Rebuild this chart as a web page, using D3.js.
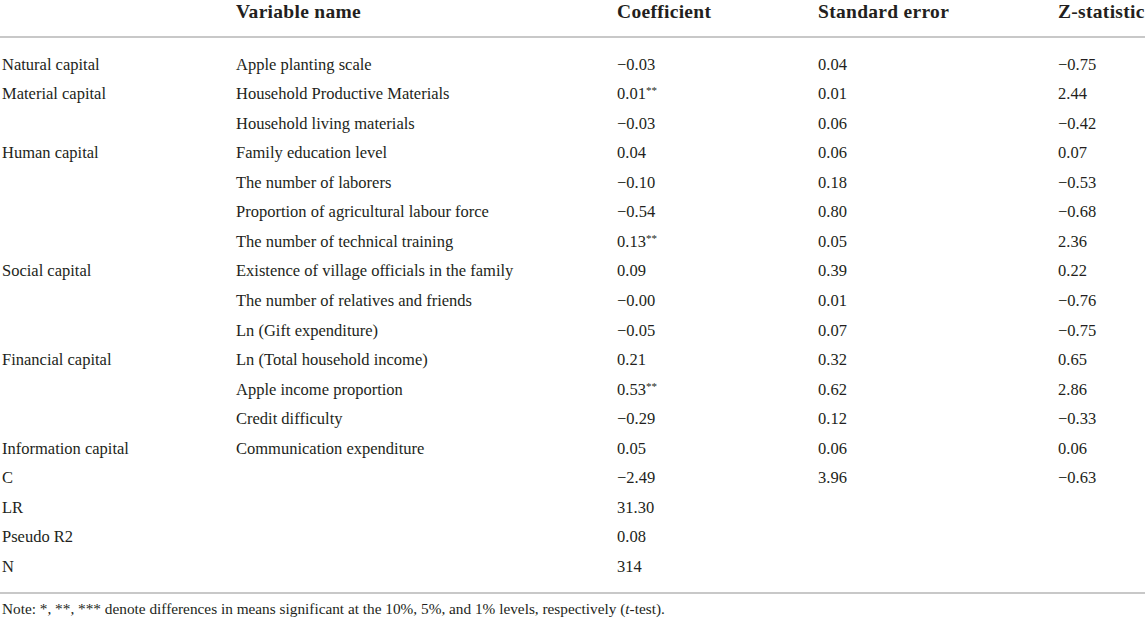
<!DOCTYPE html>
<html>
<head>
<meta charset="utf-8">
<script src="https://cdn.jsdelivr.net/npm/d3@7/dist/d3.min.js"></script>
<style>
  html, body { margin: 0; padding: 0; background: #fff; overflow: hidden; }
  svg { display: block; }
  .cell { font-family: "Liberation Serif", "DejaVu Serif", serif; font-size: 16.5px; fill: #231f20; }
  .head { font-weight: bold; font-size: 19.5px; letter-spacing: 0.3px; }
  .rule { stroke: #c8c8c8; stroke-width: 2; }
  .note { font-family: "Liberation Serif", "DejaVu Serif", serif; font-size: 15.3px; fill: #231f20; }
</style>
</head>
<body>
<svg id="table"></svg>
<script>
(function () {
  'use strict';

  const HEADERS = ['', 'Variable name', 'Coefficient', 'Standard error', 'Z-statistic'];

  const GROUPS = ['Natural capital', 'Material capital', '', 'Human capital', '', '', '',
    'Social capital', '', '', 'Financial capital', '', '', 'Information capital',
    'C', 'LR', 'Pseudo R2', 'N'];

  const VARIABLES = ['Apple planting scale', 'Household Productive Materials', 'Household living materials',
    'Family education level', 'The number of laborers', 'Proportion of agricultural labour force',
    'The number of technical training', 'Existence of village officials in the family',
    'The number of relatives and friends', 'Ln (Gift expenditure)', 'Ln (Total household income)',
    'Apple income proportion', 'Credit difficulty', 'Communication expenditure', '', '', '', ''];

  const COEFFICIENTS = ['\u22120.03', '0.01**', '\u22120.03', '0.04', '\u22120.10', '\u22120.54', '0.13**',
    '0.09', '\u22120.00', '\u22120.05', '0.21', '0.53**', '\u22120.29', '0.05', '\u22122.49',
    '31.30', '0.08', '314'];

  const STD_ERRORS = ['0.04', '0.01', '0.06', '0.06', '0.18', '0.80', '0.05', '0.39', '0.01', '0.07',
    '0.32', '0.62', '0.12', '0.06', '3.96', '', '', ''];

  const Z_STATS = ['\u22120.75', '2.44', '\u22120.42', '0.07', '\u22120.53', '\u22120.68', '2.36', '0.22',
    '\u22120.76', '\u22120.75', '0.65', '2.86', '\u22120.33', '0.06', '\u22120.63', '', '', ''];

  const COLUMNS = [GROUPS, VARIABLES, COEFFICIENTS, STD_ERRORS, Z_STATS];

  const NOTE = 'Note: *, **, *** denote differences in means significant at the 10%, 5%, and 1% levels, respectively (';

  const W = 1145, H = 619;
  const colX = [2, 236, 617, 818, 1058];

  const svg = d3.select('#table').attr('width', W).attr('height', H);

  const x = d3.scaleOrdinal().domain(d3.range(COLUMNS.length)).range(colX);
  const y = d3.scaleBand().domain(d3.range(GROUPS.length)).range([49.5, 581]);

  // Header
  svg.append('g').selectAll('text')
    .data(HEADERS)
    .join('text')
    .attr('class', 'cell head')
    .attr('x', (d, i) => x(i))
    .attr('y', 17.5)
    .text(d => d);

  svg.append('line').attr('class', 'rule')
    .attr('x1', 0).attr('x2', W).attr('y1', 37).attr('y2', 37);

  // Body rows
  const rows = svg.append('g').selectAll('g')
    .data(d3.range(GROUPS.length))
    .join('g')
    .attr('transform', r => `translate(0, ${y(r) + y.bandwidth() / 2 + 5.5})`);

  rows.each(function (r) {
    const g = d3.select(this);
    COLUMNS.forEach((col, ci) => {
      const val = col[r];
      if (!val) return;
      const m = val.match(/^(.*?)(\*+)$/);
      const t = g.append('text').attr('class', 'cell').attr('x', x(ci)).attr('y', 0);
      if (m) {
        t.append('tspan').text(m[1]);
        t.append('tspan').attr('font-size', '11px').attr('dy', -5).text(m[2]);
      } else {
        t.text(val);
      }
    });
  });

  svg.append('line').attr('class', 'rule')
    .attr('x1', 0).attr('x2', W).attr('y1', 593).attr('y2', 593);

  // Note
  const note = svg.append('text').attr('class', 'note').attr('x', 2).attr('y', 614);
  note.append('tspan').text(NOTE);
  note.append('tspan').attr('font-style', 'italic').text('t');
  note.append('tspan').text('-test).');
})();
</script>
</body>
</html>
